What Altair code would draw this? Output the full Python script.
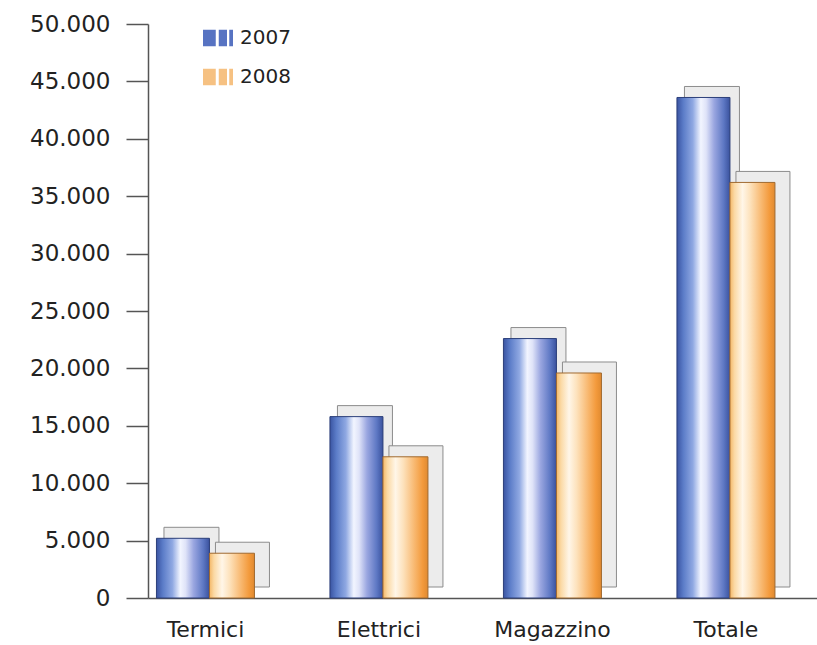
import altair as alt
import pandas as pd

categories = ["Termici", "Elettrici", "Magazzino", "Totale"]
years = ["2007", "2008"]
values_2007 = [5200, 15800, 22600, 43600]
values_2008 = [3900, 12300, 19600, 36200]

rows = []
for c, a, b in zip(categories, values_2007, values_2008):
    rows.append({"categoria": c, "anno": "2007", "valore": a})
    rows.append({"categoria": c, "anno": "2008", "valore": b})
df = pd.DataFrame(rows)

FONT = "DejaVu Sans"

blue_grad = alt.Gradient(
    gradient="linear", x1=0, y1=0, x2=1, y2=0,
    stops=[
        alt.GradientStop(color="#3a54a2", offset=0),
        alt.GradientStop(color="#5b7cc8", offset=0.12),
        alt.GradientStop(color="#8fa8e2", offset=0.3),
        alt.GradientStop(color="#f2f5ff", offset=0.45),
        alt.GradientStop(color="#dfe3f8", offset=0.55),
        alt.GradientStop(color="#9aa6e0", offset=0.7),
        alt.GradientStop(color="#5e78c4", offset=0.88),
        alt.GradientStop(color="#3a529e", offset=1),
    ],
)
orange_grad = alt.Gradient(
    gradient="linear", x1=0, y1=0, x2=1, y2=0,
    stops=[
        alt.GradientStop(color="#f4b868", offset=0),
        alt.GradientStop(color="#fbd9a4", offset=0.1),
        alt.GradientStop(color="#fff6e8", offset=0.28),
        alt.GradientStop(color="#fde2bc", offset=0.45),
        alt.GradientStop(color="#f8b870", offset=0.7),
        alt.GradientStop(color="#f39a3c", offset=0.88),
        alt.GradientStop(color="#e08a30", offset=1),
    ],
)

x_enc = alt.X(
    "categoria:N",
    sort=categories,
    scale=alt.Scale(paddingInner=0.5, paddingOuter=0.178, align=0.228),
    axis=alt.Axis(
        title=None, ticks=False, labelAngle=0, labelPadding=21,
        labelFontSize=22, labelFont=FONT, labelColor="#222222",
        domainColor="#555555", domainWidth=1.5, labelBaseline="top",
    ),
)
y_enc = alt.Y(
    "valore:Q",
    scale=alt.Scale(domain=[0, 50000], nice=False),
    axis=alt.Axis(
        title=None, grid=False, values=list(range(0, 50001, 5000)),
        labelExpr="replace(format(datum.value, ','), ',', '.')",
        tickSize=22, tickWidth=1.5, tickColor="#555555",
        domainColor="#555555", domainWidth=1.5,
        labelPadding=16, labelFontSize=23, labelFont=FONT, labelColor="#222222",
    ),
)

base = alt.Chart(df)

shadow07 = base.transform_filter(alt.datum.anno == "2007").mark_bar(
    width=55, xOffset=-14, yOffset=-11, y2Offset=-11,
    fill="#ececec", stroke="#8c8c8c", strokeWidth=1,
).encode(x=x_enc, y=y_enc, y2=alt.datum(0))
shadow08 = base.transform_filter(alt.datum.anno == "2008").mark_bar(
    width=54, xOffset=37, yOffset=-11, y2Offset=-11,
    fill="#ececec", stroke="#8c8c8c", strokeWidth=1,
).encode(x=x_enc, y=y_enc, y2=alt.datum(0))

bar07 = base.transform_filter(alt.datum.anno == "2007").mark_bar(
    width=53, xOffset=-22.5, fill=blue_grad, stroke="#2c3f7a", strokeWidth=1,
).encode(x=x_enc, y=y_enc)
bar08 = base.transform_filter(alt.datum.anno == "2008").mark_bar(
    width=45, xOffset=26.5, fill=orange_grad, stroke="#a06a30", strokeWidth=1,
).encode(x=x_enc, y=y_enc)

legend_layer = base.mark_point(filled=True, opacity=0, size=1).encode(
    x=x_enc, y=y_enc,
    color=alt.Color(
        "anno:N",
        scale=alt.Scale(domain=years, range=["#5773c2", "#f6c182"]),
        legend=alt.Legend(
            title=None, orient="none", legendX=55, legendY=-1,
            symbolType="M-1,-0.55H-0.15V0.55H-1Z M0.05,-0.55H0.6V0.55H0.05Z M0.75,-0.55H1V0.55H0.75Z",
            symbolSize=900, symbolOpacity=1, symbolStrokeWidth=0,
            labelFontSize=20, labelFont=FONT, labelColor="#222222",
            labelOffset=7, rowPadding=14, padding=0,
        ),
    ),
)

chart = alt.layer(shadow07, shadow08, bar07, bar08, legend_layer).properties(
    width=669, height=574,
    autosize=alt.AutoSizeParams(type="none"),
    padding={"left": 148, "top": 24, "right": 0, "bottom": 47},
    background="white",
).configure_view(stroke=None)

chart.save("out.html", embed_options={"renderer": "svg", "actions": False})
